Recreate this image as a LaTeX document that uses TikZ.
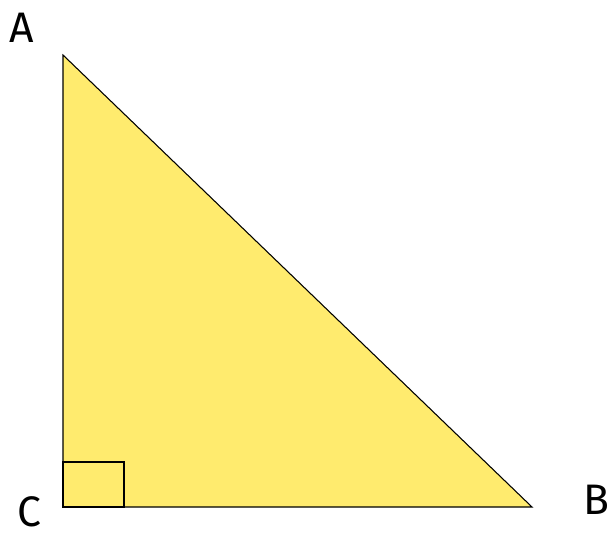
\documentclass[tikz,border=0pt]{standalone}
\usepackage{fontspec}
\setmainfont{Fira Sans}
\usetikzlibrary{positioning}
\definecolor{triyellow}{RGB}{255,235,110}

\begin{document}
\begin{tikzpicture}[x=0.75pt, y=-0.75pt,
        side/.style={draw=black, thick, fill=triyellow},
        lbl/.style={font=\fontsize{32}{36}\selectfont, inner sep=0pt}]
      \useasboundingbox (0,0) rectangle (611,537);
      \coordinate (A) at (63,55);
      \coordinate (C) at (63,507);
      \coordinate (B) at (532,507);
      \filldraw[side] (A) -- (C) -- (B) -- cycle;
      \draw[very thick] (C) rectangle ++(61,-45);
      \node[lbl] (la) at (22,28) {A};
      \node[lbl] (lc) at (29,512) {C};
      \node[lbl] (lb) at (596,500) {B};
    \end{tikzpicture}
\end{document}
